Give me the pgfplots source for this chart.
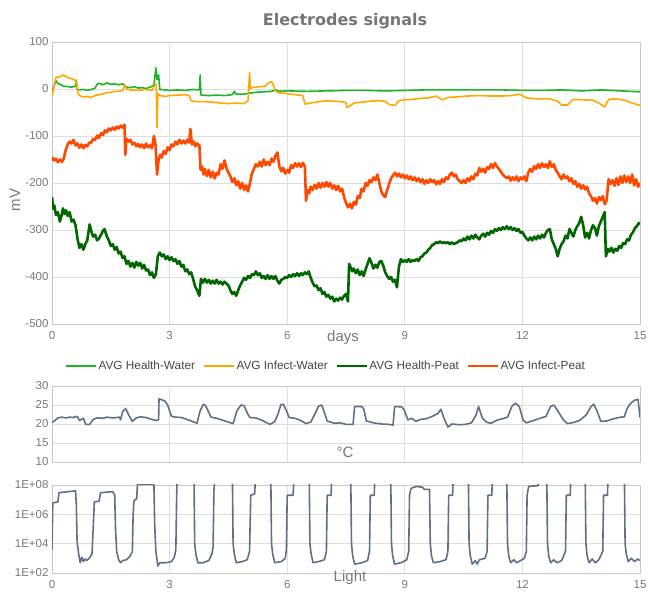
\documentclass[border=0pt]{standalone}
\usepackage{pgfplots}
\pgfplotsset{compat=1.18}
\usepackage{fontspec}
\setmainfont{Liberation Sans}
\newfontfamily\titlefont{DejaVu Sans}
\definecolor{gridc}{RGB}{222,222,222}
\definecolor{basec}{RGB}{200,200,200}
\definecolor{tickc}{RGB}{120,120,120}
\definecolor{titlec}{RGB}{117,117,117}
\definecolor{legc}{RGB}{68,68,68}
\definecolor{hw}{RGB}{30,180,40}
\definecolor{iw}{RGB}{255,168,0}
\definecolor{hp}{RGB}{0,102,0}
\definecolor{ip}{RGB}{255,72,0}
\definecolor{slate}{RGB}{96,112,132}

\pgfplotsset{
 base/.style={scale only axis, width=588pt, xmin=0, xmax=15, xtick={0,3,6,9,12,15},
  grid=major, grid style={draw=gridc, line width=0.7pt},
  axis line style={draw=basec, line width=0.8pt}, major tick length=0pt,
  tick label style={font=\fontsize{11.5}{12}\selectfont, text=tickc},
  xticklabel style={yshift=-4pt},
  every axis plot/.append style={line join=round}},
}

\begin{document}
\begin{tikzpicture}[x=1pt,y=1pt]
\useasboundingbox (0,0) rectangle (648,596);
\node[font=\titlefont\bfseries\fontsize{16}{18}\selectfont, text=titlec] at (345,575) {Electrodes signals};

\begin{axis}[base, at={(52pt,272pt)}, anchor=south west, height=282pt,
  ymin=-500, ymax=100, ytick={-500,-400,-300,-200,-100,0,100},
  yticklabels={-500,-400,-300,-200,-100,0,100}, xticklabels={0,3,6,9,12,15},
  legend style={at={(0.466,-0.149)}, anchor=center, draw=none, fill=none,
    legend columns=4, font=\fontsize{11.8}{12}\selectfont, text=legc,
    /tikz/every even column/.append style={column sep=6pt}},
  legend image code/.code={\draw[#1, line width=1.6pt] (0pt,0pt) -- (30pt,0pt);}]
\addplot[hw, line width=1.6pt] coordinates {
(0,-3) (0.05,5) (0.1,18) (0.15,12) (0.2,10) (0.3,6) (0.4,5) (0.5,4) (0.6,6) (0.62,19) (0.64,0)
(0.7,-2) (0.8,-1) (0.9,-3) (1.0,-1) (1.1,2) (1.15,10) (1.2,12) (1.3,9) (1.4,13) (1.5,10)
(1.6,11) (1.7,9) (1.8,11) (1.85,8) (1.9,4) (2.0,3) (2.1,5) (2.2,2) (2.3,3) (2.4,1) (2.5,4)
(2.6,8) (2.65,45) (2.68,20) (2.72,30) (2.75,-1) (2.9,-2) (3.0,-3) (3.2,-2) (3.4,-3) (3.6,-1)
(3.76,-2) (3.78,30) (3.8,-13) (4.0,-14) (4.2,-13) (4.4,-14) (4.6,-12) (4.65,-5) (4.7,-11)
(4.9,-11) (5.04,-9) (5.2,-7) (5.4,-6) (5.6,-5) (5.7,-2) (5.8,-5) (6.0,-4) (6.5,-5) (7.0,-4)
(7.5,-3) (8.0,-3) (8.5,-4) (9.0,-3) (9.5,-2) (10.0,-2) (10.5,-2) (11.0,-2) (11.5,-2)
(12.0,-3) (12.5,-3) (13.0,-2) (13.5,-4) (14.0,-2) (14.5,-4) (15.0,-6)};
\addlegendentry{AVG Health-Water}
\addplot[iw, line width=1.6pt] coordinates {
(0,-18) (0.05,5) (0.1,25) (0.2,26) (0.3,30) (0.4,24) (0.5,22) (0.6,18) (0.63,10) (0.65,-5)
(0.7,-14) (0.8,-17) (0.9,-16) (1.0,-18) (1.1,-14) (1.2,-12) (1.3,-10) (1.4,-8) (1.5,-7)
(1.6,-5) (1.7,-5) (1.8,-3) (1.86,8) (1.9,0) (2.0,-2) (2.2,-3) (2.4,-1) (2.55,-3) (2.62,8)
(2.66,10) (2.68,-82) (2.7,-10) (2.75,-14) (2.9,-16) (3.0,-14) (3.2,-13) (3.4,-12) (3.5,-14)
(3.55,-25) (3.7,-27) (3.9,-27) (4.1,-28) (4.3,-30) (4.5,-31) (4.7,-30) (4.9,-31) (5.0,-25)
(5.04,35) (5.06,0) (5.1,3) (5.3,5) (5.45,6) (5.5,12) (5.6,16) (5.65,8) (5.7,-5) (5.8,-8)
(6.0,-10) (6.2,-12) (6.4,-14) (6.45,-32) (6.6,-30) (6.8,-27) (7.0,-25) (7.2,-26) (7.4,-27)
(7.5,-29) (7.52,-39) (7.6,-36) (7.7,-30) (7.9,-28) (8.1,-26) (8.3,-25) (8.5,-26) (8.6,-33)
(8.75,-35) (8.85,-25) (9.0,-23) (9.2,-22) (9.4,-20) (9.6,-19) (9.8,-15) (9.9,-20) (9.95,-23)
(10.1,-18) (10.3,-17) (10.6,-15) (10.9,-14) (11.2,-15) (11.5,-15) (11.7,-14) (11.94,-11)
(12.1,-19) (12.4,-21) (12.7,-21) (12.9,-26) (13.0,-34) (13.15,-34) (13.3,-22) (13.5,-23)
(13.8,-24) (13.95,-30) (14.1,-38) (14.2,-22) (14.4,-21) (14.6,-24) (14.8,-30) (15.0,-35)};
\addlegendentry{AVG Infect-Water}
\addplot[hp, line width=2.6pt] coordinates {
(0,-230) (0.03,-255) (0.06,-248) (0.1,-268) (0.15,-262) (0.2,-282) (0.24,-270) (0.28,-254)
(0.32,-266) (0.36,-258) (0.4,-270) (0.45,-262) (0.5,-282) (0.55,-278) (0.6,-290) (0.65,-318)
(0.7,-338) (0.75,-330) (0.8,-342) (0.85,-330) (0.9,-322) (0.96,-288) (1.0,-302) (1.05,-314)
(1.1,-310) (1.15,-322) (1.2,-318) (1.25,-310) (1.3,-302) (1.34,-298) (1.4,-314) (1.45,-322)
(1.5,-334) (1.55,-330) (1.6,-342) (1.65,-336) (1.7,-350) (1.75,-346) (1.8,-360) (1.85,-356)
(1.9,-372) (1.95,-366) (2.0,-378) (2.05,-370) (2.1,-380) (2.15,-368) (2.2,-376) (2.25,-370)
(2.3,-382) (2.35,-374) (2.4,-386) (2.45,-384) (2.5,-396) (2.55,-390) (2.6,-402) (2.65,-394)
(2.7,-356) (2.75,-348) (2.8,-356) (2.85,-352) (2.9,-362) (2.95,-356) (3.0,-364) (3.05,-358)
(3.1,-366) (3.15,-362) (3.2,-372) (3.25,-366) (3.3,-378) (3.35,-374) (3.4,-388) (3.45,-384)
(3.5,-394) (3.55,-390) (3.6,-404) (3.65,-420) (3.7,-428) (3.76,-440) (3.8,-404) (3.85,-412)
(3.9,-404) (3.95,-412) (4.0,-406) (4.05,-414) (4.1,-408) (4.15,-414) (4.2,-406) (4.25,-414)
(4.3,-410) (4.35,-416) (4.4,-410) (4.45,-414) (4.5,-418) (4.55,-428) (4.6,-436) (4.65,-432)
(4.7,-440) (4.75,-428) (4.8,-418) (4.85,-410) (4.9,-402) (4.95,-406) (5.0,-398) (5.05,-402)
(5.1,-394) (5.15,-396) (5.2,-388) (5.25,-396) (5.3,-392) (5.35,-402) (5.4,-398) (5.45,-404)
(5.5,-396) (5.55,-404) (5.6,-398) (5.65,-404) (5.7,-398) (5.75,-408) (5.8,-414) (5.85,-406)
(5.9,-404) (5.95,-400) (6.0,-402) (6.05,-396) (6.1,-400) (6.15,-394) (6.2,-398) (6.25,-392)
(6.3,-398) (6.35,-392) (6.4,-396) (6.45,-390) (6.5,-394) (6.55,-388) (6.6,-402) (6.65,-412)
(6.7,-420) (6.75,-418) (6.8,-428) (6.85,-424) (6.9,-436) (6.95,-432) (7.0,-442) (7.05,-438)
(7.1,-446) (7.15,-442) (7.2,-452) (7.25,-446) (7.3,-450) (7.35,-444) (7.4,-448) (7.45,-440)
(7.5,-436) (7.55,-452) (7.58,-372) (7.62,-380) (7.66,-388) (7.7,-382) (7.75,-392) (7.8,-384)
(7.85,-396) (7.9,-388) (7.95,-398) (8.0,-384) (8.05,-372) (8.1,-360) (8.15,-370) (8.2,-382)
(8.25,-374) (8.3,-380) (8.35,-368) (8.4,-366) (8.45,-376) (8.5,-390) (8.55,-398) (8.6,-404)
(8.65,-400) (8.7,-410) (8.75,-406) (8.8,-422) (8.85,-378) (8.9,-362) (8.95,-368) (9.0,-364)
(9.05,-368) (9.1,-362) (9.15,-368) (9.2,-364) (9.25,-366) (9.3,-362) (9.35,-366) (9.4,-358)
(9.45,-356) (9.5,-350) (9.55,-348) (9.6,-342) (9.65,-338) (9.7,-332) (9.75,-330) (9.8,-326)
(9.85,-328) (9.9,-324) (9.95,-328) (10.0,-326) (10.05,-328) (10.1,-326) (10.15,-330)
(10.2,-326) (10.25,-330) (10.3,-328) (10.35,-326) (10.4,-322) (10.45,-324) (10.5,-318)
(10.55,-322) (10.6,-314) (10.65,-320) (10.7,-312) (10.75,-318) (10.8,-310) (10.85,-316)
(10.9,-320) (10.95,-312) (11.0,-308) (11.05,-314) (11.1,-306) (11.15,-310) (11.2,-302)
(11.25,-306) (11.3,-298) (11.35,-302) (11.4,-296) (11.45,-300) (11.5,-294) (11.55,-298)
(11.6,-292) (11.65,-298) (11.7,-294) (11.75,-300) (11.8,-296) (11.85,-302) (11.9,-298)
(11.95,-306) (12.0,-304) (12.05,-312) (12.1,-318) (12.15,-322) (12.2,-316) (12.25,-322)
(12.3,-314) (12.35,-320) (12.4,-312) (12.45,-318) (12.5,-310) (12.55,-316) (12.6,-306)
(12.65,-300) (12.7,-298) (12.75,-320) (12.8,-330) (12.85,-340) (12.9,-356) (12.95,-340)
(13.0,-330) (13.05,-324) (13.1,-312) (13.15,-318) (13.2,-298) (13.25,-306) (13.3,-314)
(13.35,-300) (13.4,-292) (13.45,-285) (13.5,-272) (13.55,-290) (13.6,-316) (13.65,-306)
(13.7,-318) (13.75,-300) (13.8,-290) (13.85,-296) (13.9,-312) (13.95,-292) (14.0,-282)
(14.05,-272) (14.1,-262) (14.13,-356) (14.18,-340) (14.22,-346) (14.27,-338) (14.32,-348)
(14.37,-340) (14.42,-344) (14.47,-334) (14.52,-338) (14.57,-328) (14.62,-330) (14.67,-320)
(14.72,-322) (14.77,-310) (14.82,-305) (14.87,-296) (14.92,-292) (14.97,-285) (15.0,-288)};
\addlegendentry{AVG Health-Peat}
\addplot[ip, line width=2.6pt] coordinates {
(0,-145) (0.05,-152) (0.1,-148) (0.15,-156) (0.2,-150) (0.25,-155) (0.3,-148) (0.35,-130)
(0.4,-118) (0.45,-112) (0.5,-116) (0.55,-108) (0.6,-120) (0.65,-116) (0.7,-125) (0.75,-118)
(0.8,-126) (0.85,-119) (0.9,-122) (0.95,-114) (1.0,-114) (1.05,-106) (1.1,-108) (1.15,-99)
(1.2,-104) (1.25,-94) (1.3,-98) (1.35,-88) (1.4,-92) (1.45,-84) (1.5,-88) (1.55,-82)
(1.6,-87) (1.65,-80) (1.7,-84) (1.75,-78) (1.8,-82) (1.85,-76) (1.87,-140) (1.9,-106)
(1.95,-112) (2.0,-108) (2.05,-118) (2.1,-114) (2.15,-122) (2.2,-117) (2.25,-124) (2.3,-118)
(2.35,-126) (2.4,-116) (2.45,-124) (2.5,-120) (2.55,-126) (2.6,-100) (2.64,-118) (2.68,-182)
(2.72,-150) (2.76,-140) (2.8,-146) (2.85,-132) (2.9,-138) (2.95,-124) (3.0,-130) (3.05,-118)
(3.1,-122) (3.15,-112) (3.2,-118) (3.25,-108) (3.3,-116) (3.35,-110) (3.4,-116) (3.45,-108)
(3.5,-114) (3.53,-85) (3.57,-118) (3.62,-112) (3.66,-122) (3.7,-116) (3.76,-120) (3.79,-172)
(3.83,-165) (3.87,-182) (3.9,-170) (3.95,-185) (4.0,-172) (4.05,-188) (4.1,-176) (4.15,-190)
(4.2,-178) (4.25,-182) (4.3,-160) (4.35,-170) (4.4,-152) (4.45,-168) (4.5,-178) (4.55,-185)
(4.6,-198) (4.65,-190) (4.7,-205) (4.75,-196) (4.8,-212) (4.85,-200) (4.9,-215) (4.95,-205)
(5.0,-218) (5.05,-200) (5.1,-180) (5.15,-170) (5.2,-160) (5.25,-165) (5.3,-155) (5.35,-165)
(5.4,-150) (5.45,-162) (5.5,-155) (5.55,-162) (5.6,-148) (5.65,-155) (5.7,-142) (5.75,-135)
(5.8,-165) (5.85,-175) (5.9,-168) (5.95,-180) (6.0,-172) (6.05,-178) (6.1,-162) (6.15,-168)
(6.2,-158) (6.25,-165) (6.3,-158) (6.35,-166) (6.4,-157) (6.45,-165) (6.48,-238) (6.52,-215)
(6.56,-222) (6.6,-208) (6.65,-215) (6.7,-204) (6.75,-212) (6.8,-200) (6.85,-210) (6.9,-200)
(6.95,-208) (7.0,-198) (7.05,-208) (7.1,-200) (7.15,-212) (7.2,-205) (7.25,-215) (7.3,-206)
(7.35,-218) (7.4,-212) (7.45,-230) (7.5,-242) (7.55,-252) (7.6,-244) (7.65,-254) (7.7,-240)
(7.75,-246) (7.8,-228) (7.85,-232) (7.9,-212) (7.95,-218) (8.0,-200) (8.05,-206) (8.1,-194)
(8.15,-198) (8.2,-188) (8.25,-194) (8.3,-182) (8.35,-200) (8.4,-218) (8.45,-226) (8.5,-230)
(8.55,-215) (8.6,-202) (8.65,-190) (8.7,-184) (8.75,-178) (8.8,-186) (8.85,-180) (8.9,-188)
(8.95,-182) (9.0,-190) (9.05,-184) (9.1,-192) (9.15,-186) (9.2,-194) (9.25,-188) (9.3,-196)
(9.35,-190) (9.4,-198) (9.45,-192) (9.5,-202) (9.55,-194) (9.6,-200) (9.65,-192) (9.7,-198)
(9.75,-194) (9.8,-203) (9.85,-196) (9.9,-202) (9.95,-192) (10.0,-198) (10.05,-188) (10.1,-192)
(10.15,-182) (10.2,-178) (10.25,-186) (10.3,-182) (10.35,-192) (10.4,-196) (10.45,-200)
(10.5,-194) (10.55,-200) (10.6,-190) (10.65,-196) (10.7,-186) (10.75,-192) (10.8,-180)
(10.85,-184) (10.9,-168) (10.95,-176) (11.0,-170) (11.05,-178) (11.1,-166) (11.15,-170)
(11.2,-160) (11.25,-168) (11.3,-158) (11.35,-165) (11.4,-170) (11.45,-176) (11.5,-182)
(11.55,-186) (11.6,-190) (11.65,-186) (11.7,-195) (11.75,-188) (11.8,-194) (11.85,-186)
(11.9,-196) (11.95,-188) (12.0,-192) (12.05,-186) (12.1,-196) (12.15,-178) (12.2,-170)
(12.25,-176) (12.3,-164) (12.35,-170) (12.4,-160) (12.45,-168) (12.5,-158) (12.55,-166)
(12.6,-160) (12.65,-168) (12.7,-154) (12.75,-166) (12.8,-160) (12.85,-172) (12.9,-178)
(12.95,-186) (13.0,-192) (13.05,-182) (13.1,-190) (13.15,-186) (13.2,-196) (13.25,-190)
(13.3,-202) (13.35,-196) (13.4,-208) (13.45,-202) (13.5,-212) (13.55,-205) (13.6,-214)
(13.65,-208) (13.7,-222) (13.75,-228) (13.8,-238) (13.85,-232) (13.9,-244) (13.95,-230)
(14.0,-236) (14.05,-228) (14.1,-245) (14.15,-236) (14.2,-192) (14.25,-202) (14.3,-194)
(14.35,-206) (14.4,-190) (14.45,-204) (14.5,-186) (14.55,-200) (14.6,-184) (14.65,-198)
(14.7,-186) (14.75,-200) (14.8,-182) (14.85,-205) (14.9,-192) (14.95,-208) (15.0,-200)};
\addlegendentry{AVG Infect-Peat}
\end{axis}

\begin{axis}[base, at={(52pt,134pt)}, anchor=south west, height=76pt,
  ymin=10, ymax=30, ytick={10,15,20,25,30}, yticklabels={10,15,20,25,30}, xticklabels={}]
\addplot[slate, line width=1.6pt] coordinates {
(0,20.5) (0.05,20.7) (0.15,21.6) (0.25,21.8) (0.35,21.6) (0.45,21.8) (0.55,21.7) (0.6,22)
(0.66,21.8) (0.7,20.9) (0.75,21.2) (0.8,21.5) (0.86,19.9) (0.96,19.9) (1.05,21.2) (1.15,21.6)
(1.3,21.5) (1.4,21.8) (1.55,21.6) (1.72,21.8) (1.75,21.1) (1.8,23.2) (1.88,24.1) (1.95,22.5)
(2.05,20.7) (2.15,21.6) (2.25,21.9) (2.4,21.7) (2.55,21.2) (2.68,20.9) (2.72,21.2) (2.73,26.6)
(2.8,26.4) (2.88,26.0) (2.95,25) (3.05,22) (3.15,21.8) (3.3,21.7) (3.45,21.2) (3.6,20.6)
(3.7,20.2) (3.78,23.5) (3.86,25.2) (3.92,24.8) (4.02,22.6) (4.06,21.8) (4.2,21.5) (4.35,21.0)
(4.5,20.5) (4.62,20.1) (4.72,23.5) (4.82,25.0) (4.9,24.8) (5.0,22.5) (5.05,21.7) (5.2,21.6)
(5.35,21.0) (5.5,20.2) (5.56,19.9) (5.68,20.6) (5.76,22.5) (5.84,25.1) (5.9,25.2) (5.98,23.5)
(6.05,21.7) (6.2,21.5) (6.35,20.9) (6.48,20.1) (6.6,20.5) (6.7,22.5) (6.8,24.7) (6.88,25)
(6.95,23) (7.02,20.8) (7.2,20.2) (7.35,20.3) (7.5,19.9) (7.68,19.9) (7.72,24.6) (7.9,24.6)
(7.95,24.0) (8.02,20.8) (8.2,20.3) (8.4,20.0) (8.6,19.9) (8.7,19.7) (8.74,24.6) (8.92,24.5)
(8.98,23.8) (9.08,21.1) (9.18,21.5) (9.28,20.7) (9.4,21.2) (9.55,21.4) (9.7,22) (9.85,22.8)
(9.92,23.9) (10.0,21.5) (10.1,19.2) (10.2,20.0) (10.4,19.8) (10.55,19.9) (10.7,20.3)
(10.82,22.4) (10.88,24.6) (10.98,21.5) (11.1,20.4) (11.2,20.2) (11.35,21.0) (11.5,21.4)
(11.62,21.8) (11.73,24.6) (11.82,25.5) (11.92,24.6) (12.02,21.0) (12.1,20.3) (12.25,20.8)
(12.45,21.5) (12.6,22.0) (12.72,24.6) (12.8,25.0) (12.9,23.5) (13.05,21) (13.15,20.1)
(13.3,20.4) (13.45,20.9) (13.62,22.3) (13.75,24.6) (13.82,25.2) (13.9,23.5) (14.0,20.7)
(14.15,20.8) (14.3,21.3) (14.45,21.7) (14.6,21.9) (14.66,23.8) (14.74,25.2) (14.85,26.2)
(14.95,26.5) (15.0,21.7)};
\end{axis}

\begin{axis}[base, at={(52pt,23pt)}, anchor=south west, height=88pt, ymode=log,
  ymin=1e2, ymax=1e8, ytick={1e2,1e4,1e6,1e8}, yticklabels={1E+02,1E+04,1E+06,1E+08},
  xticklabels={0,3,6,9,12,15}]
\addplot[slate, line width=1.6pt] coordinates {
(0,4e3) (0.02,6e6) (0.15,7e6) (0.18,3e7) (0.6,4e7) (0.62,5e6) (0.64,1.5e4) (0.68,2e3)
(0.72,5e2) (0.76,1.2e3) (0.8,6e2) (0.84,9e2) (0.88,7e2) (0.95,1e3) (1.02,2e3) (1.05,1e5)
(1.08,7e6) (1.2,8e6) (1.24,3e7) (1.55,3.5e7) (1.6,2e7) (1.62,1e5) (1.65,3e3) (1.7,8e2)
(1.75,5e2) (1.8,7e2) (1.9,8e2) (2.0,1.5e3) (2.05,3e3) (2.07,1e6) (2.09,8e6) (2.16,1.2e7)
(2.18,1.1e8) (2.6,1.1e8) (2.62,2e5) (2.65,3e3) (2.7,3e2) (2.75,5e2) (2.9,5e2) (3.05,6e2)
(3.12,1.2e3) (3.16,4e3) (3.18,2e7) (3.2,1e9) (3.62,1e9) (3.64,1e4) (3.67,2e3) (3.72,5e2)
(3.85,5e2) (4.0,7e2) (4.08,2e3) (4.11,6e3) (4.13,4e7) (4.17,1e9) (4.6,1e9) (4.62,1e4)
(4.65,2e3) (4.7,5e2) (4.85,6e2) (4.98,8e2) (5.04,3e3) (5.07,2e7) (5.17,2.5e7) (5.2,1e9)
(5.58,1e9) (5.6,1e4) (5.63,2e3) (5.68,5e2) (5.85,6e2) (5.95,1e3) (5.98,4e3) (6.0,2e7)
(6.15,2e7) (6.18,1e9) (6.56,1e9) (6.58,1e4) (6.61,2e3) (6.66,5e2) (6.8,6e2) (6.95,8e2)
(7.0,3e3) (7.02,2e7) (7.12,2e7) (7.14,1e9) (7.62,1e9) (7.64,1e4) (7.67,1.5e3) (7.72,4e2)
(7.9,5e2) (8.05,7e2) (8.1,3e3) (8.12,2e7) (8.22,2e7) (8.24,1e9) (8.64,1e9) (8.66,1e4)
(8.69,1.5e3) (8.74,4e2) (8.9,5e2) (9.05,8e2) (9.1,3e3) (9.12,2e7) (9.16,6e7) (9.3,8e7)
(9.45,7e7) (9.5,5e7) (9.63,5e7) (9.65,1e4) (9.68,1.5e3) (9.73,5e2) (9.9,6e2) (10.05,8e2)
(10.1,3e3) (10.12,2e7) (10.22,2e7) (10.24,1e9) (10.62,1e9) (10.64,1e4) (10.67,1.5e3)
(10.72,4e2) (10.8,7e2) (10.85,4e2) (10.9,8e2) (11.05,1e3) (11.1,3e3) (11.12,2e7) (11.22,2e7)
(11.24,1e9) (11.6,1e9) (11.62,1e4) (11.65,1.5e3) (11.7,5e2) (11.78,8e2) (11.85,5e2)
(11.95,7e2) (12.05,1e3) (12.1,3e3) (12.12,2e7) (12.16,8e7) (12.4,9e7) (12.45,1e9) (12.62,1e9)
(12.64,1e4) (12.67,1.5e3) (12.72,5e2) (12.8,8e2) (12.88,5e2) (13.0,7e2) (13.1,3e3)
(13.12,2e7) (13.22,2e7) (13.24,1e9) (13.6,1e9) (13.62,1e4) (13.65,1.5e3) (13.7,5e2)
(13.78,9e2) (13.86,5e2) (13.95,8e2) (14.05,3e3) (14.07,2e7) (14.17,2e7) (14.19,1e9)
(14.6,1e9) (14.62,1e4) (14.65,2e3) (14.7,6e2) (14.78,1e3) (14.86,6e2) (14.94,9e2) (15.0,7e2)};
\end{axis}

\node[text=tickc, font=\fontsize{15}{16}\selectfont] at (343,258) {days};
\node[text=tickc, font=\fontsize{15}{16}\selectfont, rotate=90] at (15,396) {mV};
\node[text=tickc, font=\fontsize{15}{16}\selectfont] at (345,144) {°C};
\node[text=tickc, font=\fontsize{15}{16}\selectfont] at (350,18) {Light};
\end{tikzpicture}
\end{document}
